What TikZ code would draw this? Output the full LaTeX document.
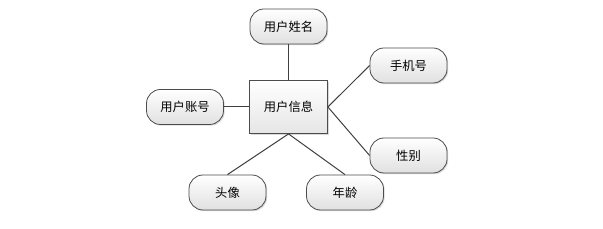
\documentclass[tikz,border=0pt]{standalone}
\usepackage{fontspec}
\setmainfont{Noto Sans CJK SC}
\usetikzlibrary{shadows}

\tikzset{
  attr/.style={draw=black!70, line width=0.8pt, rounded corners=14pt,
    minimum width=77pt, minimum height=35pt, top color=white, bottom color=black!12,
    drop shadow={shadow xshift=1.2pt, shadow yshift=-1.2pt, opacity=0.3},
    font=\fontsize{12.3pt}{14pt}\selectfont, inner sep=0pt},
  entity/.style={draw=black!70, line width=0.8pt,
    minimum width=78pt, minimum height=53pt, top color=white, bottom color=black!10,
    drop shadow={shadow xshift=1.2pt, shadow yshift=-1.2pt, opacity=0.3},
    font=\fontsize{12.3pt}{14pt}\selectfont, inner sep=0pt},
  link/.style={draw=black!75, line width=1pt}
}

\begin{document}
\begin{tikzpicture}[x=1pt,y=-1pt]
\path[use as bounding box] (0,0) rectangle (603,229);
\node[entity] (info) at (288.5,107) {用户信息};
\node[attr] (name) at (288.5,26.5) {用户姓名};
\node[attr] (account) at (185,107) {用户账号};
\node[attr] (phone) at (408.5,65.5) {手机号};
\node[attr] (sex) at (408.5,155.5) {性别};
\node[attr] (avatar) at (227.5,192.5) {头像};
\node[attr] (age) at (345,192.5) {年龄};
\draw[link] (name) -- (info);
\draw[link] (account) -- (info);
\draw[link] (info.east) -- (phone.west);
\draw[link] (info.east) -- (sex.west);
\draw[link] (info.south) -- (avatar.north);
\draw[link] (info.south) -- (age.north);
\end{tikzpicture}
\end{document}
